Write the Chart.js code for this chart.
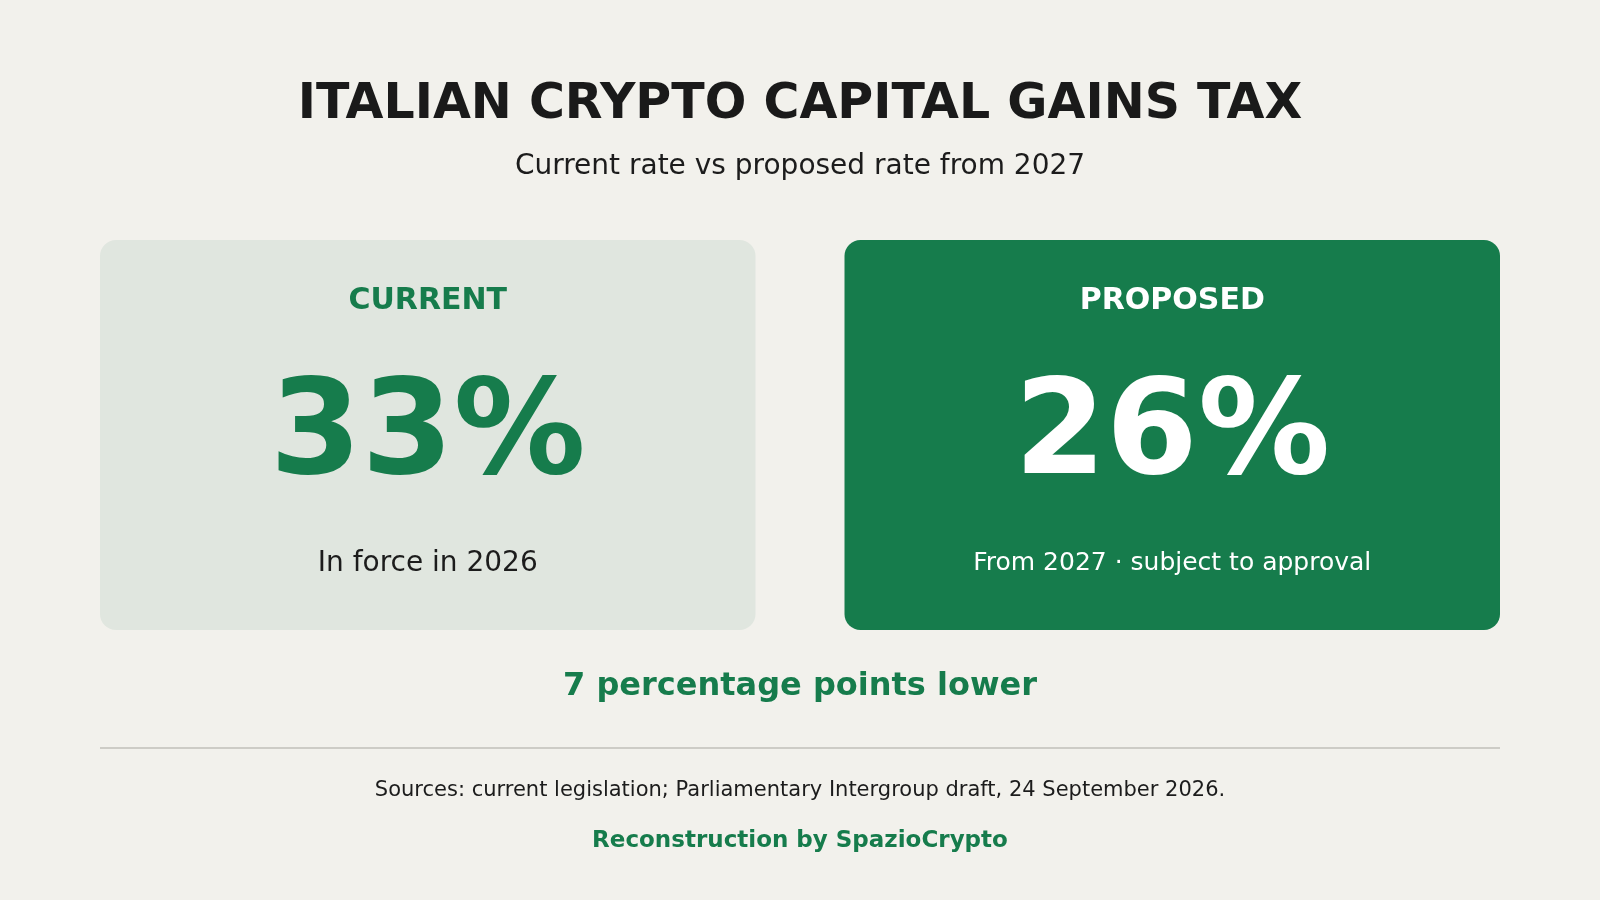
<!DOCTYPE html>
<html>
<head>
<meta charset="utf-8">
<title>Italian crypto capital gains tax</title>
<script src="https://cdn.jsdelivr.net/npm/chart.js@4.4.1/dist/chart.umd.min.js"></script>
<style>
  html, body { margin: 0; padding: 0; }
  body {
    width: 1600px; height: 900px; overflow: hidden;
    background: #f2f1ec;
    font-family: "DejaVu Sans", sans-serif;
    position: relative;
  }
  #chart { position: absolute; left: 0; top: 0; }
  .t { position: absolute; left: 0; width: 1600px; text-align: center; white-space: nowrap; line-height: 1; }
  .card-txt { position: absolute; text-align: center; white-space: nowrap; line-height: 1; }
  #rule { position: absolute; left: 100px; width: 1400px; top: 747px; height: 2px; background: #cdccc6; }
</style>
</head>
<body>
<canvas id="chart" width="1600" height="900"></canvas>
<div id="overlay"></div>
<div id="rule"></div>

<script>
/* ── Data ───────────────────────────────────────── */
const CATEGORIES = ["CURRENT", "PROPOSED"];
const RATES      = [33, 26];                       // % capital gains tax
const NOTES      = ["In force in 2026", "From 2027 · subject to approval"];

const TITLE    = "ITALIAN CRYPTO CAPITAL GAINS TAX";
const SUBTITLE = "Current rate vs proposed rate from 2027";
const SOURCES  = "Sources: current legislation; Parliamentary Intergroup draft, 24 September 2026.";
const CREDIT   = "Reconstruction by SpazioCrypto";

/* ── Style ──────────────────────────────────────── */
const GREEN     = "#167c4c";
const CARD_BG   = ["#e0e6df", GREEN];
const LABEL_COL = [GREEN, "#ffffff"];
const VALUE_COL = [GREEN, "#ffffff"];
const NOTE_COL  = ["#1c1c1c", "#ffffff"];
const NOTE_SIZE = [28, 25];
const NOTE_DY   = [332, 330];

/* ── Text helper: place by baseline (DejaVu metrics) ── */
const overlay = document.getElementById("overlay");
function addText(cls, text, baseline, size, weight, color, x, width) {
  const d = document.createElement("div");
  d.className = cls;
  d.textContent = text;
  d.style.fontSize = size + "px";
  d.style.fontWeight = weight;
  d.style.color = color;
  d.style.top = (baseline - 0.846 * size) + "px";
  if (x !== undefined) { d.style.left = x + "px"; d.style.width = width + "px"; }
  overlay.appendChild(d);
  return d;
}

addText("t", TITLE,    118, 49, "bold",   "#1a1a1a");
addText("t", SUBTITLE, 175, 28, "normal", "#1c1c1c");
addText("t", (RATES[0] - RATES[1]) + " percentage points lower", 695, 32, "bold", GREEN);
addText("t", SOURCES,  797, 21, "normal", "#1c1c1c");
addText("t", CREDIT,   847, 23, "bold",   GREEN);

/* ── Card text from bar geometry ────────────────── */
let placed = false;
const cardText = {
  id: "cardText",
  afterDraw(chart) {
    if (placed) return;
    placed = true;
    chart.getDatasetMeta(0).data.forEach((bar, i) => {
      const left = bar.x - bar.width / 2;
      const top = Math.min(bar.y, bar.base);
      addText("card-txt", CATEGORIES[i], top + 69, 30, "bold", LABEL_COL[i], left, bar.width);
      addText("card-txt", RATES[i] + "%", top + 233, 132, "bold", VALUE_COL[i], left, bar.width);
      addText("card-txt", NOTES[i], top + NOTE_DY[i], NOTE_SIZE[i], "normal", NOTE_COL[i], left, bar.width);
    });
  }
};

/* ── Chart: two floating bars used as cards ─────── */
new Chart(document.getElementById("chart"), {
  type: "bar",
  data: {
    labels: CATEGORIES,
    datasets: [{
      data: RATES.map(() => [0, 1]),
      backgroundColor: CARD_BG,
      borderRadius: 16,
      borderSkipped: false,
      barPercentage: 655.5 / 744.5,
      categoryPercentage: 1
    }]
  },
  options: {
    responsive: false,
    animation: false,
    layout: { padding: { left: 55.5, right: 55.5, top: 240, bottom: 270 } },
    plugins: { legend: { display: false }, tooltip: { enabled: false } },
    scales: {
      x: { display: false },
      y: { display: false, min: 0, max: 1 }
    }
  },
  plugins: [cardText]
});
</script>
</body>
</html>
